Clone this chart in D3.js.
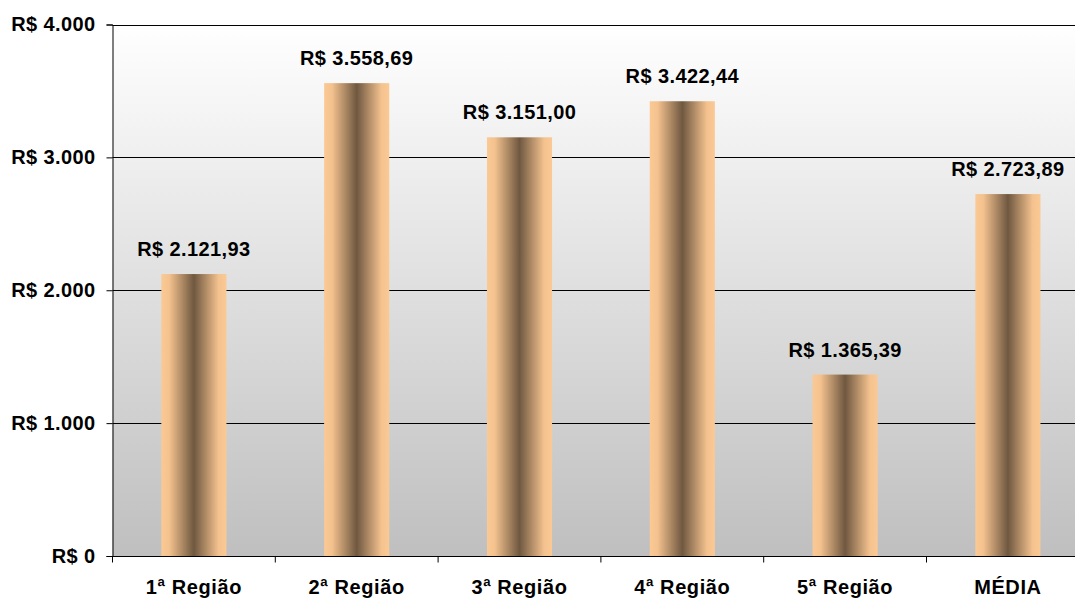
<!DOCTYPE html>
<html>
<head>
<meta charset="utf-8">
<script src="https://cdn.jsdelivr.net/npm/d3@7"></script>
<style>
  body { margin: 0; background: #fff; }
  text { font-family: "Liberation Sans", Arial, sans-serif; font-weight: bold; fill: #000; }
</style>
</head>
<body>
<svg id="chart" width="1075" height="598"></svg>
<script>
// data
const categories = ["1ª Região", "2ª Região", "3ª Região", "4ª Região", "5ª Região", "MÉDIA"];
const values = [2121.93, 3558.69, 3151.00, 3422.44, 1365.39, 2723.89];
const yTicks = [0, 1000, 2000, 3000, 4000];

const brl = d3.formatLocale({ decimal: ",", thousands: ".", grouping: [3], currency: ["R$ ", ""] });
const fmtTick = brl.format("$,.0f");
const fmtVal = brl.format("$,.2f");

const plotLeft = 112.5, plotTop = 24.5, plotBottom = 556, plotRight = 1089.3;

const svg = d3.select("#chart");
const defs = svg.append("defs");

const bg = defs.append("linearGradient").attr("id", "bg")
  .attr("x1", 0).attr("y1", 0).attr("x2", 0).attr("y2", 1);
bg.append("stop").attr("offset", "0%").attr("stop-color", "#ffffff");
bg.append("stop").attr("offset", "100%").attr("stop-color", "#bfbfbf");

const barGrad = defs.append("linearGradient").attr("id", "bar")
  .attr("x1", 0).attr("y1", 0).attr("x2", 1).attr("y2", 0);
[[0, "#fbc994"], [0.12, "#f4c28e"], [0.5, "#6f5840"], [0.88, "#f4c28e"], [1, "#fbc994"]]
  .forEach(s => barGrad.append("stop").attr("offset", s[0]).attr("stop-color", s[1]));

const x = d3.scaleBand().domain(categories).range([plotLeft, plotRight])
  .paddingInner(0.6).paddingOuter(0.3);
const y = d3.scaleLinear().domain([0, 4000]).range([plotBottom, plotTop]);

// plot background
svg.append("rect")
  .attr("x", plotLeft).attr("y", y(4000))
  .attr("width", plotRight - plotLeft).attr("height", y(0) - y(4000))
  .attr("fill", "url(#bg)");

// gridlines
svg.append("g").selectAll("line").data(yTicks.filter(d => d > 0)).join("line")
  .attr("x1", plotLeft).attr("x2", plotRight)
  .attr("y1", d => Math.round(y(d)) + 0.5).attr("y2", d => Math.round(y(d)) + 0.5)
  .attr("stroke", "#000").attr("stroke-width", 1);

// bars
svg.append("g").selectAll("rect").data(values).join("rect")
  .attr("x", (d, i) => x(categories[i]))
  .attr("y", d => y(d))
  .attr("width", x.bandwidth())
  .attr("height", d => y(0) - y(d))
  .attr("fill", "url(#bar)");

// value labels
svg.append("g").selectAll("text").data(values).join("text")
  .attr("x", (d, i) => x(categories[i]) + x.bandwidth() / 2)
  .attr("y", d => y(d) - 18)
  .attr("text-anchor", "middle")
  .attr("font-size", "20px")
  .attr("letter-spacing", "0.4px")
  .text(d => fmtVal(d));

// y axis
const yAxis = svg.append("g")
  .attr("transform", `translate(${plotLeft},0)`)
  .call(d3.axisLeft(y).tickValues(yTicks).tickSize(6).tickPadding(11).tickFormat(fmtTick));
yAxis.select(".domain").attr("stroke", "#000");
yAxis.selectAll(".tick line").attr("stroke", "#000");
yAxis.selectAll(".tick text")
  .attr("font-size", "20px").attr("letter-spacing", "0.4px")
  .attr("font-family", null).attr("fill", "#000");

// x axis
const step = x.step();
const xg = svg.append("g").attr("transform", `translate(0,${Math.round(y(0)) + 0.5})`);
xg.append("line").attr("x1", plotLeft).attr("x2", plotRight).attr("stroke", "#000");
xg.selectAll("line.tk").data(d3.range(categories.length + 1)).join("line")
  .attr("class", "tk")
  .attr("x1", i => plotLeft + i * step).attr("x2", i => plotLeft + i * step)
  .attr("y1", 0).attr("y2", 6).attr("stroke", "#000");
xg.selectAll("text").data(categories).join("text")
  .attr("x", d => x(d) + x.bandwidth() / 2)
  .attr("y", 37)
  .attr("text-anchor", "middle")
  .attr("font-size", "20px")
  .attr("letter-spacing", "0.6px")
  .text(d => d);
</script>
</body>
</html>
